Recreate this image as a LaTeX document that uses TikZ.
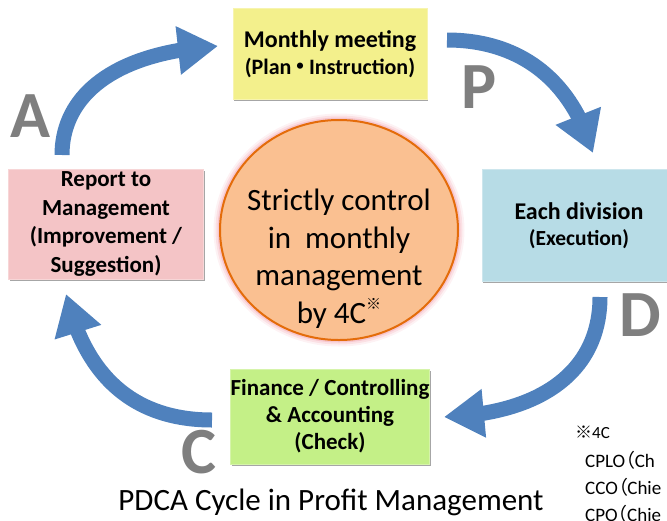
\documentclass[tikz,border=0pt]{standalone}
\usepackage{fontspec}
\setmainfont{Carlito}
\newfontfamily\cjk[RawFeature=+palt]{Noto Sans CJK JP}
\newfontfamily\cjkfull{Noto Sans CJK JP}
\usetikzlibrary{arrows.meta,bending,shadows,shapes.geometric}

\definecolor{arrowblue}{RGB}{79,129,189}
\definecolor{lettergray}{RGB}{127,127,127}
\definecolor{planfill}{RGB}{243,240,140}
\definecolor{dofill}{RGB}{183,220,230}
\definecolor{checkfill}{RGB}{196,240,135}
\definecolor{actfill}{RGB}{244,196,198}
\definecolor{corefill}{RGB}{250,192,145}
\definecolor{coreline}{RGB}{228,108,10}
\definecolor{glowpink}{RGB}{240,150,165}

\begin{document}
\begin{tikzpicture}[x=1pt,y=-1pt,
  stagebox/.style={draw=#1!70!white, fill=#1, line width=0.8pt,
    align=center, inner sep=0pt,
    drop shadow={shadow xshift=1.2pt, shadow yshift=-1.6pt, opacity=0.35, fill=black}},
  cyclearrow/.style={arrowblue, line width=15pt,
    -{Triangle[width=46pt,length=40pt]}},
  stagelabel/.style={text=lettergray, inner sep=0pt,
    font=\fontsize{66}{66}\selectfont\bfseries},
  notetext/.style={anchor=west, inner sep=0pt, font=\fontsize{19}{22}\selectfont}
]
\useasboundingbox (0,0) rectangle (667,520);

% central ellipse with a soft pink halo
\foreach \w/\o in {13/0.12, 9/0.2, 5/0.35}
  \draw[glowpink, line width=\w pt, opacity=\o] (339,230) ellipse [x radius=119pt, y radius=110pt];
\node[ellipse, draw=coreline, line width=2pt, fill=corefill,
      minimum width=238pt, minimum height=220pt, inner sep=0pt] (core) at (339,230) {};
\node[align=center, inner sep=0pt, font=\fontsize{31}{37.5}\selectfont] (coretext) at (339,258.5)
  {Strictly control\\in\ \ monthly\\management\\by 4C\raisebox{0.45em}{\fontsize{15}{15}\selectfont\cjk ※}};

% the four stages
\node[stagebox=planfill, minimum width=194pt, minimum height=91pt,
      font=\fontsize{24}{28}\selectfont\bfseries] (plan) at (330,54)
  {Monthly meeting\\[-1pt]
   {\fontsize{22}{24}\selectfont (Plan{\cjkfull\kern-0.1em・\kern-0.1em}Instruction)}};
\node[stagebox=dofill, minimum width=194pt, minimum height=112pt,
      font=\fontsize{24}{28}\selectfont\bfseries] (do) at (579,225.5)
  {Each division\\[-2pt]
   {\fontsize{21.5}{24}\selectfont (Execution)}};
\node[stagebox=checkfill, minimum width=196pt, minimum height=95pt,
      font=\fontsize{23}{27}\selectfont\bfseries] (check) at (330,416.5)
  {Finance / Controlling\\\& Accounting\\(Check)};
\node[stagebox=actfill, minimum width=195pt, minimum height=110pt,
      font=\fontsize{23}{28.5}\selectfont\bfseries] (act) at (106,224)
  {Report to\\Management\\(Improvement /\\Suggestion)};

% arrow end points
\coordinate (aFrom) at (62,155);   \coordinate (aTo) at (218,46);
\coordinate (pFrom) at (447,40);   \coordinate (pTo) at (593,153);
\coordinate (dFrom) at (600,297);  \coordinate (dTo) at (444,417);
\coordinate (cFrom) at (212,420);  \coordinate (cTo) at (66,294);

% cycle arrows
\draw[cyclearrow] (aFrom) .. controls (62,95) and (115,52) .. (aTo);
\draw[cyclearrow] (pFrom) .. controls (515,40) and (570,75) .. (pTo);
\draw[cyclearrow] (dFrom) .. controls (600,372) and (540,414) .. (dTo);
\draw[cyclearrow] (cFrom) .. controls (130,420) and (84,372) .. (cTo);

% stage letters
\node[stagelabel] (lA) at (30,116) {A};
\node[stagelabel] (lP) at (479,87) {P};
\node[stagelabel] (lD) at (640,315) {D};
\node[stagelabel] (lC) at (199,452) {C};

% caption
\node[inner sep=0pt, font=\fontsize{31}{34}\selectfont] (caption) at (331,502)
  {PDCA Cycle in Profit Management};

% footnote on the 4C
\node[notetext, font=\fontsize{17}{19}\selectfont] (n0) at (575,432) {{\cjkfull ※}4C};
\node[notetext] (n1) at (585,461) {CPLO{\cjk\smash{（}}Ch};
\node[notetext] (n2) at (585,488) {CCO{\cjk\smash{（}}Chie};
\node[notetext] (n3) at (585,515) {CPO{\cjk\smash{（}}Chie};
\end{tikzpicture}
\end{document}
